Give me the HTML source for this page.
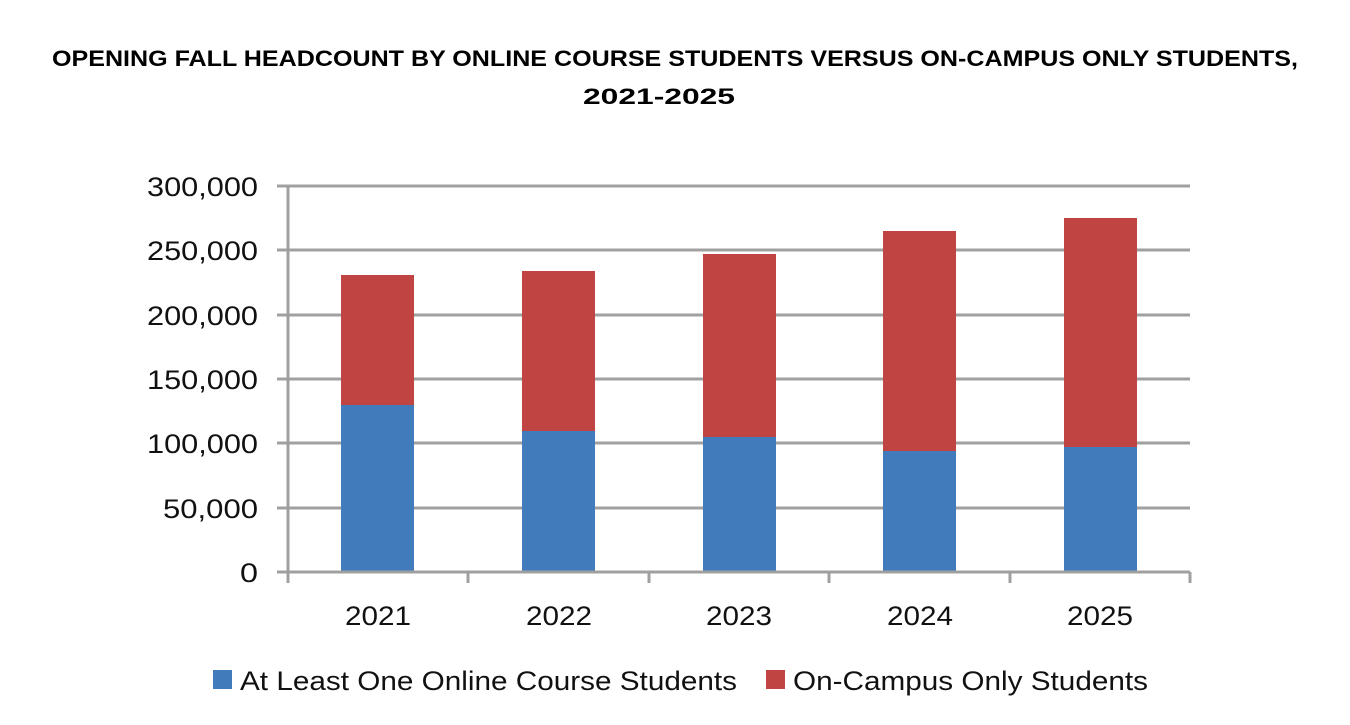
<!DOCTYPE html>
<html><head><meta charset="utf-8"><style>
body{margin:0;background:#fff;}
svg{display:block}
</style></head><body>
<svg width="1350" height="725" xmlns="http://www.w3.org/2000/svg" font-family="'Liberation Sans', sans-serif">
<text x="52" y="66" font-size="22" font-weight="bold" textLength="1246" lengthAdjust="spacingAndGlyphs">OPENING FALL HEADCOUNT BY ONLINE COURSE STUDENTS VERSUS ON-CAMPUS ONLY STUDENTS,</text>
<text x="583" y="104" font-size="22" font-weight="bold" textLength="152" lengthAdjust="spacingAndGlyphs">2021-2025</text>
<g stroke="#A0A0A0" stroke-width="3">
<line x1="277" y1="186" x2="1190" y2="186"/>
<line x1="277" y1="250" x2="1190" y2="250"/>
<line x1="277" y1="315" x2="1190" y2="315"/>
<line x1="277" y1="379" x2="1190" y2="379"/>
<line x1="277" y1="443" x2="1190" y2="443"/>
<line x1="277" y1="508" x2="1190" y2="508"/>
</g>
<g>
<rect x="341" y="275" width="73" height="130" fill="#C04442"/><rect x="341" y="405" width="73" height="167" fill="#417BBC"/>
<rect x="522" y="271" width="73" height="160" fill="#C04442"/><rect x="522" y="431" width="73" height="141" fill="#417BBC"/>
<rect x="703" y="254" width="73" height="183" fill="#C04442"/><rect x="703" y="437" width="73" height="135" fill="#417BBC"/>
<rect x="883" y="231" width="73" height="220" fill="#C04442"/><rect x="883" y="451" width="73" height="121" fill="#417BBC"/>
<rect x="1064" y="218" width="73" height="229" fill="#C04442"/><rect x="1064" y="447" width="73" height="125" fill="#417BBC"/>
</g>
<g stroke="#A0A0A0" stroke-width="3">
<line x1="277" y1="572" x2="1190" y2="572"/>
<line x1="288" y1="186" x2="288" y2="583"/>
<line x1="468" y1="572" x2="468" y2="583"/>
<line x1="649" y1="572" x2="649" y2="583"/>
<line x1="829" y1="572" x2="829" y2="583"/>
<line x1="1010" y1="572" x2="1010" y2="583"/>
<line x1="1190" y1="572" x2="1190" y2="583"/>
</g>
<g font-size="27" fill="#111" lengthAdjust="spacingAndGlyphs">
<text x="147" y="196" textLength="111" lengthAdjust="spacingAndGlyphs">300,000</text>
<text x="147" y="260" textLength="111" lengthAdjust="spacingAndGlyphs">250,000</text>
<text x="147" y="325" textLength="111" lengthAdjust="spacingAndGlyphs">200,000</text>
<text x="147" y="389" textLength="111" lengthAdjust="spacingAndGlyphs">150,000</text>
<text x="147" y="453" textLength="111" lengthAdjust="spacingAndGlyphs">100,000</text>
<text x="163" y="518" textLength="95" lengthAdjust="spacingAndGlyphs">50,000</text>
<text x="240" y="582" textLength="18" lengthAdjust="spacingAndGlyphs">0</text>
</g>
<g font-size="27" fill="#111">
<text x="345" y="625" textLength="66" lengthAdjust="spacingAndGlyphs">2021</text>
<text x="526" y="625" textLength="66" lengthAdjust="spacingAndGlyphs">2022</text>
<text x="706" y="625" textLength="66" lengthAdjust="spacingAndGlyphs">2023</text>
<text x="887" y="625" textLength="66" lengthAdjust="spacingAndGlyphs">2024</text>
<text x="1067" y="625" textLength="66" lengthAdjust="spacingAndGlyphs">2025</text>
</g>
<rect x="213" y="670" width="19" height="19" fill="#417BBC"/>
<text x="240" y="690" font-size="27" fill="#111" textLength="497" lengthAdjust="spacingAndGlyphs">At Least One Online Course Students</text>
<rect x="766" y="670" width="19" height="19" fill="#C04442"/>
<text x="793" y="690" font-size="27" fill="#111" textLength="355" lengthAdjust="spacingAndGlyphs">On-Campus Only Students</text>
</svg>
</body></html>
